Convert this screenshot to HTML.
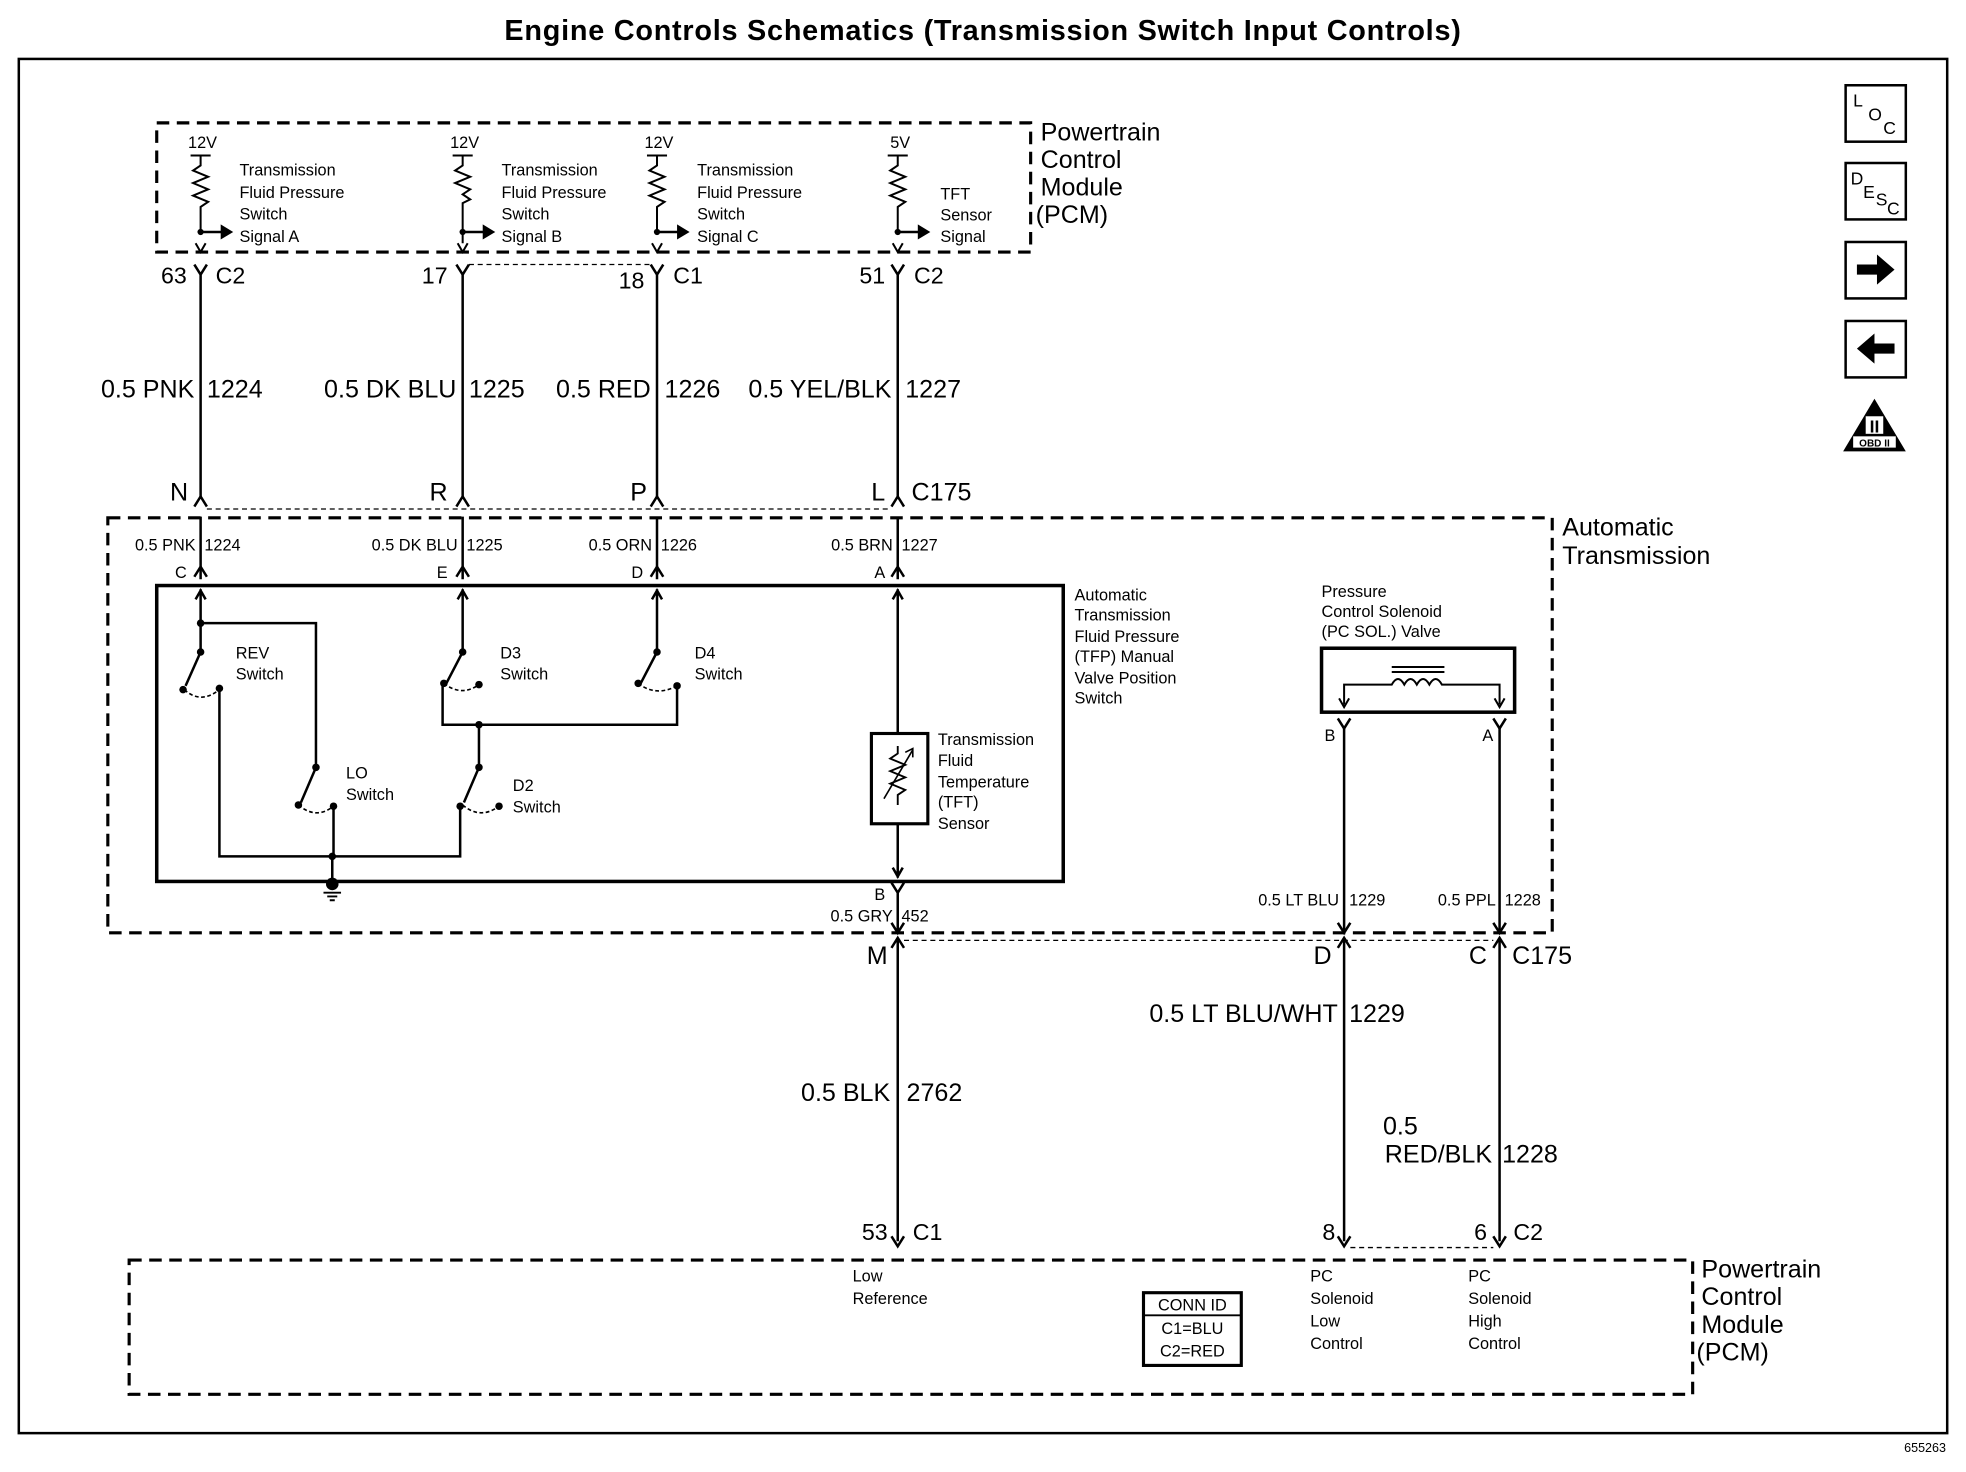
<!DOCTYPE html>
<html><head><meta charset="utf-8"><style>
html,body{margin:0;padding:0;background:#fff;}
svg{display:block;}
text{font-family:"Liberation Sans",Arial,sans-serif;fill:#000;}
.s{font-size:13px;letter-spacing:0px;}
.m{font-size:20px;letter-spacing:0px;}
.l{font-size:18.5px;letter-spacing:0px;}
</style></head><body>
<svg width="1966" height="1472" viewBox="0 0 1568 1174" preserveAspectRatio="none" xmlns="http://www.w3.org/2000/svg">
<rect width="1568" height="1174" fill="#fff"/>
<text x="784" y="32" text-anchor="middle" font-size="23" font-weight="bold" letter-spacing="0.6">Engine Controls Schematics (Transmission Switch Input Controls)</text>
<rect x="15" y="47" width="1538" height="1096" fill="none" stroke="#000" stroke-width="2"/>
<text x="1552" y="1158" text-anchor="end" font-size="10">655263</text>

<!-- icons -->
<g fill="none" stroke="#000" stroke-width="2">
<rect x="1472" y="68" width="48" height="45"/>
<rect x="1472" y="130" width="48" height="45"/>
<rect x="1472" y="193" width="48" height="45"/>
<rect x="1472" y="256" width="48" height="45"/>
</g>
<text x="1478" y="85" font-size="14">L</text><text x="1490" y="96" font-size="14">O</text><text x="1502" y="107" font-size="14">C</text>
<text x="1476" y="147" font-size="14">D</text><text x="1486" y="158" font-size="14">E</text><text x="1496" y="164" font-size="14">S</text><text x="1505" y="171" font-size="14">C</text>
<polygon points="1481,211 1497,211 1497,203 1511,215 1497,227 1497,219 1481,219" fill="#000"/>
<polygon points="1511,274 1495,274 1495,266 1481,278 1495,290 1495,282 1511,282" fill="#000"/>
<polygon points="1495,318 1470,360 1520,360" fill="#000"/>
<rect x="1488" y="332" width="14" height="14" fill="#fff"/>
<text x="1495" y="345" text-anchor="middle" font-size="14" font-weight="bold">II</text>
<rect x="1478" y="348" width="34" height="9" fill="#fff"/>
<text x="1495" y="356" text-anchor="middle" font-size="8" font-weight="bold">OBD II</text>

<!-- top PCM -->
<rect x="125" y="98" width="697" height="103" fill="none" stroke="#000" stroke-width="2.5" stroke-dasharray="10,6"/>
<text class="m" x="830" y="112">Powertrain</text>
<text class="m" x="830" y="134">Control</text>
<text class="m" x="830" y="156">Module</text>
<text class="m" x="826" y="178">(PCM)</text>

<g stroke="#000" stroke-width="1.6" fill="none">
<path d="M152,124 h16 M160,124 v8 l-6,4 l12,5 l-12,5 l12,5 l-12,5 l12,5 l-6,4 v22"/>
<path d="M361,124 h16 M369,124 v8 l-6,4 l12,5 l-12,5 l12,5 l-6,4 l6,4 l-6,3 v32"/>
<path d="M516,124 h16 M524,124 v8 l-6,4 l12,5 l-12,5 l12,5 l-12,5 l12,5 l-6,4 v22"/>
<path d="M708,124 h16 M716,124 v8 l-6,4 l12,5 l-12,5 l12,5 l-12,5 l12,5 l-6,4 v22"/>
<path d="M160,185 h18 M369,185 h18 M524,185 h18 M716,185 h18" stroke-width="2"/>
<path d="M156,194 l4,7 l4,-7 M365,194 l4,7 l4,-7 M520,194 l4,7 l4,-7 M712,194 l4,7 l4,-7"/>
</g>
<g fill="#000">
<polygon points="176,179 176,191 186,185"/><polygon points="385,179 385,191 395,185"/><polygon points="540,179 540,191 550,185"/><polygon points="732,179 732,191 742,185"/>
<circle cx="160" cy="185" r="2.5"/><circle cx="369" cy="185" r="2.5"/><circle cx="524" cy="185" r="2.5"/><circle cx="716" cy="185" r="2.5"/>
</g>
<text class="s" x="150" y="118">12V</text><text class="s" x="359" y="118">12V</text><text class="s" x="514" y="118">12V</text><text class="s" x="710" y="118">5V</text>
<text class="s" x="191" y="140">Transmission</text><text class="s" x="191" y="158">Fluid Pressure</text><text class="s" x="191" y="175">Switch</text><text class="s" x="191" y="193">Signal A</text>
<text class="s" x="400" y="140">Transmission</text><text class="s" x="400" y="158">Fluid Pressure</text><text class="s" x="400" y="175">Switch</text><text class="s" x="400" y="193">Signal B</text>
<text class="s" x="556" y="140">Transmission</text><text class="s" x="556" y="158">Fluid Pressure</text><text class="s" x="556" y="175">Switch</text><text class="s" x="556" y="193">Signal C</text>
<text class="s" x="750" y="159">TFT</text><text class="s" x="750" y="176">Sensor</text><text class="s" x="750" y="193">Signal</text>

<!-- top wires -->
<g stroke="#000" stroke-width="2" fill="none">
<path d="M155,211 l5,8 l5,-8 M160,219 V398"/>
<path d="M364,211 l5,8 l5,-8 M369,219 V398"/>
<path d="M519,211 l5,8 l5,-8 M524,219 V398"/>
<path d="M711,211 l5,8 l5,-8 M716,219 V398"/>
<path d="M155,404 l5,-8 l5,8 M364,404 l5,-8 l5,8 M519,404 l5,-8 l5,8 M711,404 l5,-8 l5,8"/>
</g>
<g stroke="#000" stroke-width="1" stroke-dasharray="4,3">
<line x1="374" y1="211" x2="519" y2="211"/>
<line x1="165" y1="406" x2="711" y2="406"/>
</g>
<text class="l" x="149" y="226" text-anchor="end">63</text><text class="l" x="172" y="226">C2</text>
<text class="l" x="357" y="226" text-anchor="end">17</text>
<text class="l" x="514" y="230" text-anchor="end">18</text><text class="l" x="537" y="226">C1</text>
<text class="l" x="706" y="226" text-anchor="end">51</text><text class="l" x="729" y="226">C2</text>

<text class="m" x="155" y="317" text-anchor="end">0.5 PNK</text><text class="m" x="165" y="317">1224</text>
<text class="m" x="364" y="317" text-anchor="end">0.5 DK BLU</text><text class="m" x="374" y="317">1225</text>
<text class="m" x="519" y="317" text-anchor="end">0.5 RED</text><text class="m" x="530" y="317">1226</text>
<text class="m" x="711" y="317" text-anchor="end">0.5 YEL/BLK</text><text class="m" x="722" y="317">1227</text>

<text class="m" x="150" y="399" text-anchor="end">N</text>
<text class="m" x="357" y="399" text-anchor="end">R</text>
<text class="m" x="516" y="399" text-anchor="end">P</text>
<text class="m" x="706" y="399" text-anchor="end">L</text>
<text class="m" x="727" y="399">C175</text>

<!-- Automatic Transmission box -->
<rect x="86" y="413" width="1152" height="331" fill="none" stroke="#000" stroke-width="2.5" stroke-dasharray="10,6"/>
<text class="m" x="1246" y="427">Automatic</text>
<text class="m" x="1246" y="450">Transmission</text>

<text class="s" x="156" y="439" text-anchor="end">0.5 PNK</text><text class="s" x="163" y="439">1224</text>
<text class="s" x="365" y="439" text-anchor="end">0.5 DK BLU</text><text class="s" x="372" y="439">1225</text>
<text class="s" x="520" y="439" text-anchor="end">0.5 ORN</text><text class="s" x="527" y="439">1226</text>
<text class="s" x="712" y="439" text-anchor="end">0.5 BRN</text><text class="s" x="719" y="439">1227</text>
<text class="s" x="149" y="461" text-anchor="end">C</text><text class="s" x="357" y="461" text-anchor="end">E</text>
<text class="s" x="513" y="461" text-anchor="end">D</text><text class="s" x="706" y="461" text-anchor="end">A</text>

<g stroke="#000" stroke-width="2" fill="none">
<path d="M160,412 V462 M369,412 V462 M524,412 V462 M716,412 V462"/>
<path d="M155,460 l5,-8 l5,8 M364,460 l5,-8 l5,8 M519,460 l5,-8 l5,8 M711,460 l5,-8 l5,8"/>
</g>
<rect x="125" y="467" width="723" height="236" fill="none" stroke="#000" stroke-width="2.8"/>

<g stroke="#000" stroke-width="2" fill="none">
<path d="M160,470 V520 M156,478 l4,-7 l4,7 M160,497 H252 V612"/>
<path d="M160,520 L148,547"/>
<path d="M175,549 V683 H367 V643"/>
<path d="M252,612 L240,640"/>
<path d="M266,643 V683"/>
<path d="M369,470 V520 M365,478 l4,-7 l4,7 M369,520 L356,545"/>
<path d="M524,470 V520 M520,478 l4,-7 l4,7 M524,520 L511,545"/>
<path d="M353,545 V578 H540 V547"/>
<path d="M382,578 V612 L370,640"/>
<path d="M265,683 V705"/>
<path d="M258,712 h14 M261,715 h8 M263,718 h4" stroke-width="1.5"/>
</g>
<g stroke="#000" stroke-width="1.3" fill="none" stroke-dasharray="3,2">
<path d="M147,550 Q160,562 175,550"/>
<path d="M238,642 Q252,654 266,643"/>
<path d="M354,545 Q368,556 382,546"/>
<path d="M509,545 Q523,556 540,547"/>
<path d="M369,642 Q383,654 398,643"/>
</g>
<g fill="#000">
<circle cx="160" cy="497" r="3"/><circle cx="160" cy="520" r="3"/><circle cx="146" cy="550" r="3"/><circle cx="175" cy="549" r="3"/>
<circle cx="252" cy="612" r="3"/><circle cx="238" cy="642" r="3"/><circle cx="266" cy="643" r="3"/>
<circle cx="369" cy="520" r="3"/><circle cx="354" cy="545" r="3"/><circle cx="382" cy="546" r="3"/>
<circle cx="524" cy="520" r="3"/><circle cx="509" cy="545" r="3"/><circle cx="540" cy="547" r="3"/>
<circle cx="382" cy="578" r="3"/><circle cx="382" cy="612" r="3"/><circle cx="367" cy="643" r="3"/><circle cx="398" cy="643" r="3"/>
<circle cx="265" cy="683" r="3"/><circle cx="265" cy="705" r="5"/>
</g>
<text class="s" x="188" y="525">REV</text><text class="s" x="188" y="542">Switch</text>
<text class="s" x="276" y="621">LO</text><text class="s" x="276" y="638">Switch</text>
<text class="s" x="399" y="525">D3</text><text class="s" x="399" y="542">Switch</text>
<text class="s" x="554" y="525">D4</text><text class="s" x="554" y="542">Switch</text>
<text class="s" x="409" y="631">D2</text><text class="s" x="409" y="648">Switch</text>

<!-- TFT sensor -->
<g stroke="#000" stroke-width="2" fill="none">
<path d="M716,470 V700 M712,478 l4,-7 l4,7 M712,692 l4,7 l4,-7"/>
<rect x="695" y="585" width="45" height="72" fill="#fff" stroke-width="2.5"/>
<path d="M716,595 v6 l-6,4 l12,5 l-12,5 l12,5 l-12,5 l12,5 l-6,4 v8" stroke-width="1.5"/>
<path d="M705,637 L728,598 M722,600 l6,-3 l0,7" stroke-width="1.3"/>
</g>
<text class="s" x="748" y="594">Transmission</text><text class="s" x="748" y="611">Fluid</text><text class="s" x="748" y="628">Temperature</text><text class="s" x="748" y="644">(TFT)</text><text class="s" x="748" y="661">Sensor</text>
<text class="s" x="857" y="479">Automatic</text><text class="s" x="857" y="495">Transmission</text><text class="s" x="857" y="512">Fluid Pressure</text><text class="s" x="857" y="528">(TFP) Manual</text><text class="s" x="857" y="545">Valve Position</text><text class="s" x="857" y="561">Switch</text>

<!-- PC solenoid -->
<text class="s" x="1054" y="476">Pressure</text><text class="s" x="1054" y="492">Control Solenoid</text><text class="s" x="1054" y="508">(PC SOL.) Valve</text>
<rect x="1054" y="517" width="154" height="51" fill="none" stroke="#000" stroke-width="2.8"/>
<g stroke="#000" stroke-width="1.6" fill="none">
<path d="M1072,562 V546 H1110 q5,-9 10,0 q5,-9 10,0 q5,-9 10,0 q5,-9 10,0 H1196 V562"/>
<path d="M1068,557 l4,7 l4,-7 M1192,557 l4,7 l4,-7"/>
<path d="M1110,532 H1152 M1110,536 H1152"/>
</g>
<g stroke="#000" stroke-width="2" fill="none">
<path d="M1067,573 l5,8 l5,-8 M1191,573 l5,8 l5,-8"/>
<path d="M1072,581 V742 M1196,581 V742"/>
<path d="M1067,736 l5,8 l5,-8 M1191,736 l5,8 l5,-8"/>
<path d="M711,704 l5,8 l5,-8 M716,712 V742 M711,736 l5,8 l5,-8"/>
<path d="M711,756 l5,-8 l5,8 M716,750 V990"/>
<path d="M1067,756 l5,-8 l5,8 M1072,750 V990"/>
<path d="M1191,756 l5,-8 l5,8 M1196,750 V990"/>
<path d="M711,986 l5,8 l5,-8 M1067,986 l5,8 l5,-8 M1191,986 l5,8 l5,-8"/>
</g>
<g stroke="#000" stroke-width="1" stroke-dasharray="4,3">
<line x1="721" y1="750" x2="1191" y2="750"/>
<line x1="1077" y1="995" x2="1191" y2="995"/>
</g>
<text class="s" x="1065" y="591" text-anchor="end">B</text><text class="s" x="1191" y="591" text-anchor="end">A</text>
<text class="s" x="1068" y="722" text-anchor="end">0.5 LT BLU</text><text class="s" x="1076" y="722">1229</text>
<text class="s" x="1193" y="722" text-anchor="end">0.5 PPL</text><text class="s" x="1200" y="722">1228</text>
<text class="s" x="706" y="718" text-anchor="end">B</text>
<text class="s" x="712" y="735" text-anchor="end">0.5 GRY</text><text class="s" x="719" y="735">452</text>

<text class="m" x="708" y="769" text-anchor="end">M</text>
<text class="m" x="1062" y="769" text-anchor="end">D</text>
<text class="m" x="1186" y="769" text-anchor="end">C</text>
<text class="m" x="1206" y="769">C175</text>
<text class="m" x="1067" y="815" text-anchor="end">0.5 LT BLU/WHT</text><text class="m" x="1076" y="815">1229</text>
<text class="m" x="710" y="878" text-anchor="end">0.5 BLK</text><text class="m" x="723" y="878">2762</text>
<text class="m" x="1103" y="905">0.5</text>
<text class="m" x="1190" y="927" text-anchor="end">RED/BLK</text><text class="m" x="1198" y="927">1228</text>
<text class="l" x="708" y="989" text-anchor="end">53</text><text class="l" x="728" y="989">C1</text>
<text class="l" x="1065" y="989" text-anchor="end">8</text>
<text class="l" x="1186" y="989" text-anchor="end">6</text><text class="l" x="1207" y="989">C2</text>

<!-- bottom PCM -->
<rect x="103" y="1005" width="1247" height="107" fill="none" stroke="#000" stroke-width="2.5" stroke-dasharray="10,6"/>
<text class="m" x="1357" y="1019">Powertrain</text>
<text class="m" x="1357" y="1041">Control</text>
<text class="m" x="1357" y="1063">Module</text>
<text class="m" x="1353" y="1085">(PCM)</text>
<text class="s" x="680" y="1022">Low</text><text class="s" x="680" y="1040">Reference</text>
<text class="s" x="1045" y="1022">PC</text><text class="s" x="1045" y="1040">Solenoid</text><text class="s" x="1045" y="1058">Low</text><text class="s" x="1045" y="1076">Control</text>
<text class="s" x="1171" y="1022">PC</text><text class="s" x="1171" y="1040">Solenoid</text><text class="s" x="1171" y="1058">High</text><text class="s" x="1171" y="1076">Control</text>
<rect x="912" y="1031" width="78" height="58" fill="none" stroke="#000" stroke-width="2.5"/>
<line x1="912" y1="1049" x2="990" y2="1049" stroke="#000" stroke-width="1.5"/>
<text class="s" x="951" y="1045" text-anchor="middle">CONN ID</text>
<text class="s" x="951" y="1064" text-anchor="middle">C1=BLU</text>
<text class="s" x="951" y="1082" text-anchor="middle">C2=RED</text>
</svg>
</body></html>
